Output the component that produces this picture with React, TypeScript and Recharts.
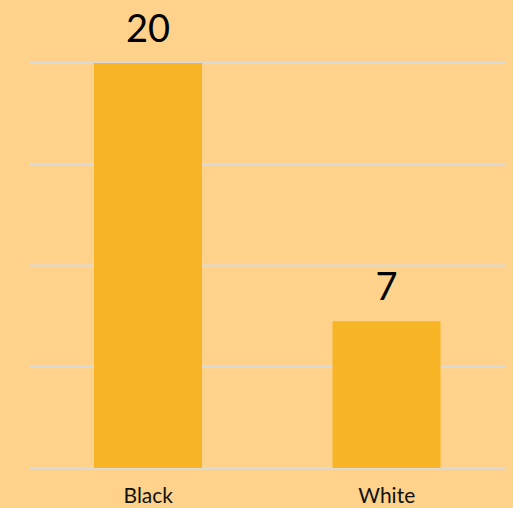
import React from "react";
import { BarChart, Bar, XAxis, YAxis, CartesianGrid, LabelList } from "recharts";

const categories = ["Black", "White"];
const counts = [20, 7.25];
const yTicks = [0, 5, 10, 15, 20];

const data = categories.map((name, i) => ({ name, count: counts[i] }));

const BG = "#FED28A";
const BAR = "#F7B425";
const FONT = "Lato, 'Open Sans', sans-serif";

export default function App() {
  return (
    <div style={{ position: "absolute", top: 0, left: 0, width: 513, height: 508, background: BG }}>
      <BarChart
        width={513}
        height={508}
        data={data}
        margin={{ top: 63, right: 7, left: 29, bottom: 0 }}
      >
        <CartesianGrid vertical={false} stroke="#DADADA" strokeWidth={2} />
        <YAxis hide domain={[0, 20]} ticks={yTicks} />
        <XAxis
          dataKey="name"
          height={40}
          axisLine={false}
          tickLine={false}
          tickMargin={14}
          tick={{ fill: "#111", fontSize: 21, fontFamily: FONT }}
        />
        <Bar dataKey="count" fill={BAR} barSize={108} isAnimationActive={false}>
          <LabelList
            dataKey="count"
            position="top"
            offset={21}
            formatter={(v: number) => Math.round(v)}
            style={{ fill: "#000", fontSize: 38, fontFamily: FONT }}
          />
        </Bar>
      </BarChart>
    </div>
  );
}
